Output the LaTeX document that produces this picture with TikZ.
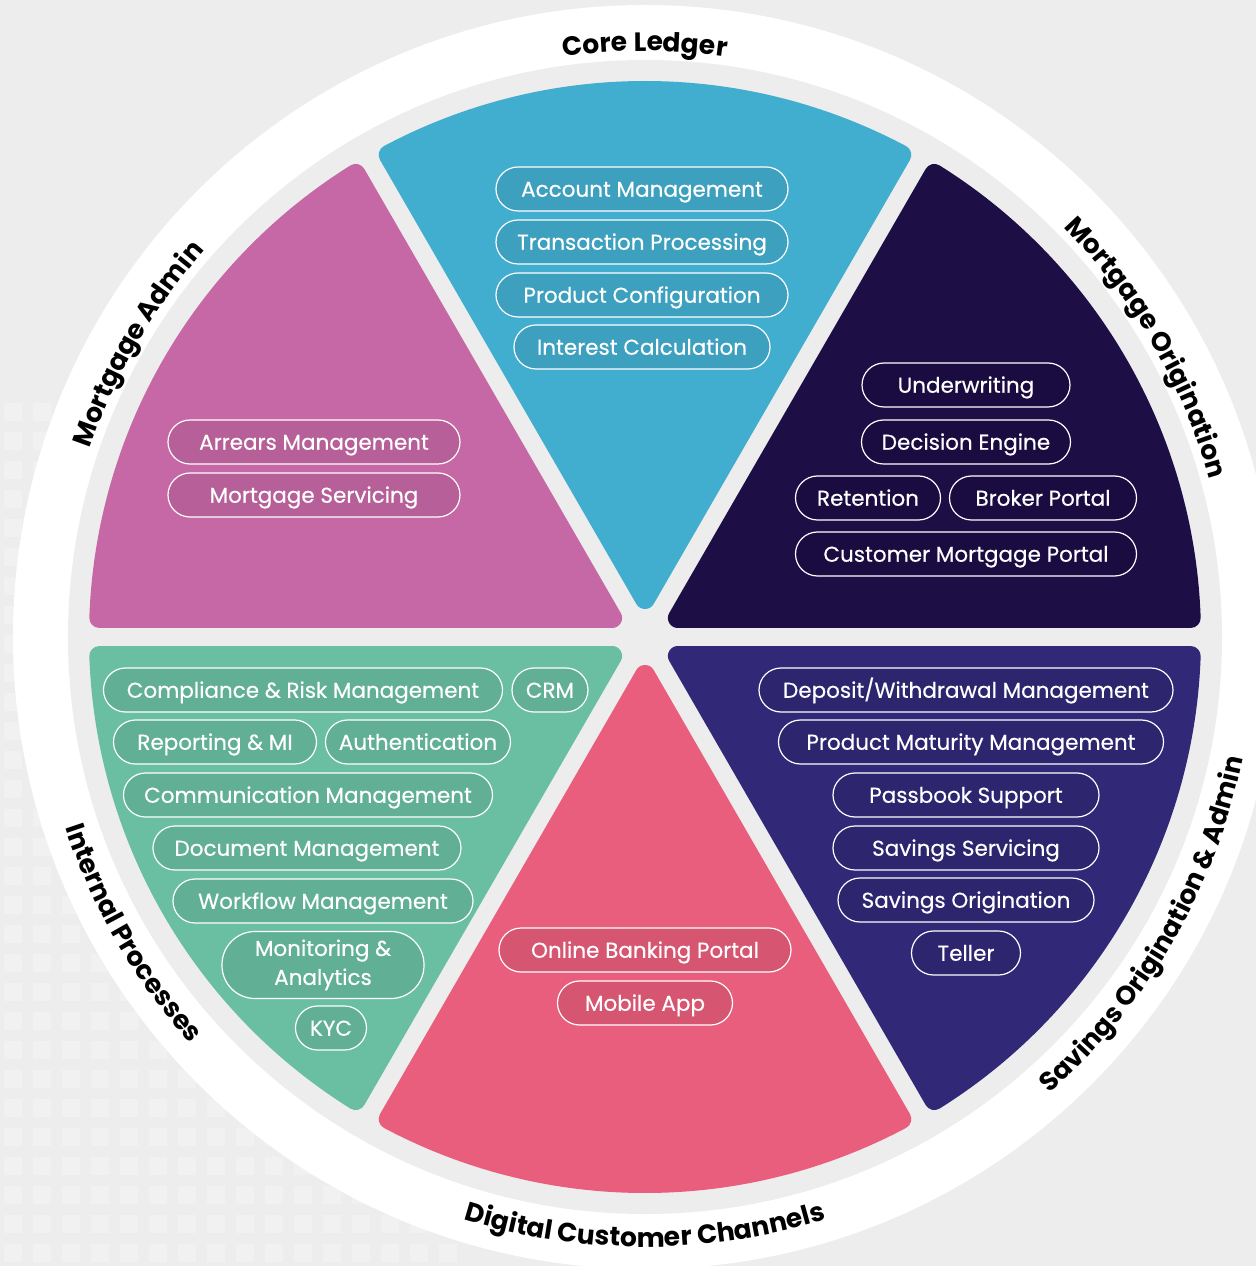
\documentclass[tikz,border=0pt]{standalone}
\usepackage{fontspec}
\setmainfont{Poppins}
\newfontfamily\pillfamily{Poppins}[FakeBold=0.4]
\usetikzlibrary{decorations.text}

\definecolor{bgGrey}{HTML}{EDEDED}
\definecolor{ledgerBlue}{HTML}{42AECF}
\definecolor{originNavy}{HTML}{1D0E46}
\definecolor{adminPink}{HTML}{C668A5}
\definecolor{internalGreen}{HTML}{6ABFA2}
\definecolor{digitalPink}{HTML}{E95E7C}
\definecolor{savingsIndigo}{HTML}{312978}

\newcommand\ringfont{\fontsize{26.5}{30}\selectfont\bfseries}

\tikzset{
  wedge/.style={fill=#1, draw=#1, line width=20pt, line join=round},
  pill/.style={draw=white, line width=1.2pt, fill=black, fill opacity=0.08,
    text opacity=1, text=white, rounded corners=22pt, minimum height=44pt,
    inner sep=0pt, text height=15.5pt, text depth=0pt,
    font=\pillfamily\fontsize{21.5}{25}\selectfont},
  ringtext/.style={decorate, decoration={text along path, text align=center, text={|\ringfont|#1}}},
}

\begin{document}
\begin{tikzpicture}[x=1pt, y=1pt]
\useasboundingbox (-645,-629) rectangle (611,637);
\fill[bgGrey] (-645,-629) rectangle (611,637);
% faint squares in the lower left
\foreach \i in {0,...,15}
  \foreach \j in {0,...,29}
    \fill[white, opacity=0.25] ({-641+29*\i},{-625+29*\j}) rectangle +(18,18);

% rings
\fill[white] (0,0) circle (632);
\fill[bgGrey] (0,0) circle (577);

% six sectors
\foreach \a/\c in {0/originNavy, 60/ledgerBlue, 120/adminPink, 180/internalGreen, 240/digitalPink, 300/savingsIndigo}
  \path[wedge=\c] ({\a+30}:38) -- ({\a+2}:546) arc[start angle=\a+2, end angle=\a+58, radius=546] -- cycle;

% ring labels
\path[ringtext=Core Ledger] (130:586) arc[start angle=130, end angle=50, radius=586];
\path[ringtext=Mortgage Origination] (70:586) arc[start angle=70, end angle=-10, radius=586];
\path[ringtext=Mortgage Admin] (190:586) arc[start angle=190, end angle=110, radius=586];
\path[ringtext=Internal Processes] (170:610) arc[start angle=170, end angle=250, radius=610];
\path[ringtext=Digital Customer Channels] (215:610) arc[start angle=215, end angle=325, radius=610];
\path[ringtext=Savings Origination {\&} Admin] (-70:610) arc[start angle=-70, end angle=10, radius=610];

% Core Ledger
\node[pill, minimum width=292pt] (acctMgmt) at (-3,448) {Account Management};
\node[pill, minimum width=292pt] (txnProc) at (-3,395) {Transaction Processing};
\node[pill, minimum width=292pt] (prodConfig) at (-3,342) {Product Configuration};
\node[pill, minimum width=256pt] (interestCalc) at (-3,290) {Interest Calculation};

% Mortgage Origination
\node[pill, minimum width=208pt] (underwriting) at (321,252) {Underwriting};
\node[pill, minimum width=209pt] (decisionEngine) at (321,195) {Decision Engine};
\node[pill, minimum width=145pt] (retention) at (223,139) {Retention};
\node[pill, minimum width=187pt] (brokerPortal) at (398,139) {Broker Portal};
\node[pill, minimum width=341pt] (custPortal) at (321,83) {Customer Mortgage Portal};

% Mortgage Admin
\node[pill, minimum width=292pt] (arrears) at (-331,195) {Arrears Management};
\node[pill, minimum width=292pt] (mortServicing) at (-331,142) {Mortgage Servicing};

% Internal Processes
\node[pill, minimum width=399pt] (compliance) at (-342,-53) {Compliance \& Risk Management};
\node[pill, minimum width=76pt] (crm) at (-95,-53) {CRM};
\node[pill, minimum width=203pt] (reporting) at (-430,-105) {Reporting \& MI};
\node[pill, minimum width=185pt] (authentication) at (-227,-105) {Authentication};
\node[pill, minimum width=369pt] (communication) at (-337,-158) {Communication Management};
\node[pill, minimum width=308pt] (document) at (-338,-211) {Document Management};
\node[pill, minimum width=300pt] (workflow) at (-322,-264) {Workflow Management};
\node[pill, minimum width=202pt, minimum height=67pt, rounded corners=33pt, align=center,
  text height={}, text depth={}] (monitoring) at (-322,-328) {Monitoring \&\\[4pt]Analytics};
\node[pill, minimum width=71pt] (kyc) at (-314,-391) {KYC};

% Savings Origination & Admin
\node[pill, minimum width=414pt] (depositMgmt) at (321,-53) {Deposit/Withdrawal Management};
\node[pill, minimum width=385pt] (maturityMgmt) at (326,-105) {Product Maturity Management};
\node[pill, minimum width=266pt] (passbook) at (321,-158) {Passbook Support};
\node[pill, minimum width=266pt] (savServicing) at (321,-211) {Savings Servicing};
\node[pill, minimum width=256pt] (savOrigination) at (321,-263) {Savings Origination};
\node[pill, minimum width=109pt] (teller) at (321,-316) {Teller};

% Digital Customer Channels
\node[pill, minimum width=292pt] (onlineBanking) at (0,-313) {Online Banking Portal};
\node[pill, minimum width=175pt] (mobileApp) at (0,-366) {Mobile App};
\end{tikzpicture}
\end{document}
